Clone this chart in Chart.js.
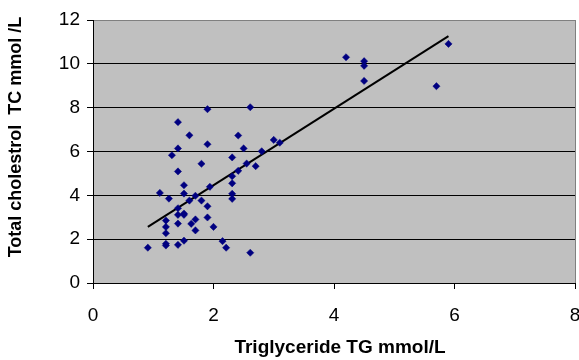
<!DOCTYPE html>
<html lang="en">
<head>
    <meta charset="UTF-8">
    <title>TG vs TC</title>
    <script src="https://cdn.jsdelivr.net/npm/chart.js"></script>
    <style>
        body { margin: 0; background: #fff; }
        #wrap { width: 579px; height: 360px; }
    </style>
</head>
<body>
    <div id="wrap"><canvas id="tgChart" width="579" height="360"></canvas></div>
    <script>
        // Triglyceride (x) and total cholesterol (y)
        const tgValues = [1.90, 2.61, 1.41, 1.60, 2.41, 1.90, 1.41, 2.50, 3.00, 3.10,
                          2.80, 1.31, 2.31, 1.80, 2.55, 2.70, 2.41, 1.41, 2.31, 2.31,
                          1.51, 1.94, 1.11, 1.51, 2.31, 1.26, 1.70, 2.31, 1.60, 1.80,
                          1.90, 1.41, 1.41, 1.51, 1.51, 1.90, 1.70, 1.21, 1.41, 1.63,
                          1.21, 2.00, 1.70, 1.21, 2.15, 1.51, 1.21, 1.21, 1.41, 0.91,
                          2.21, 2.61, 4.20, 4.50, 4.50, 4.50, 5.70, 5.90];
        const tcValues = [7.93, 8.02, 7.34, 6.74, 6.73, 6.33, 6.14, 6.14, 6.53, 6.40,
                          6.01, 5.83, 5.73, 5.44, 5.45, 5.33, 5.12, 5.09, 4.87, 4.55,
                          4.46, 4.39, 4.11, 4.08, 4.07, 3.85, 3.98, 3.84, 3.76, 3.76,
                          3.50, 3.41, 3.11, 3.17, 3.11, 2.99, 2.90, 2.85, 2.71, 2.70,
                          2.56, 2.56, 2.40, 2.27, 1.91, 1.93, 1.79, 1.71, 1.74, 1.61,
                          1.61, 1.38, 10.30, 10.12, 9.91, 9.22, 8.98, 10.91];
        const trendX = [0.91, 5.90];
        const trendY = [2.56, 11.26];
        const xTicks = [0, 2, 4, 6, 8];
        const yTicks = [0, 2, 4, 6, 8, 10, 12];
        const xTitle = 'Triglyceride TG mmol/L';
        const yTitle = 'Total cholestrol  TC mmol /L';

        const FONT = '"Liberation Sans", Arial, sans-serif';

        const plotBg = {
            id: 'plotBg',
            beforeDraw(chart) {
                const a = chart.chartArea, c = chart.ctx;
                c.save();
                c.fillStyle = '#c0c0c0';
                c.fillRect(a.left, a.top, a.right - a.left, a.bottom - a.top);
                c.restore();
            }
        };

        const axisTitles = {
            id: 'axisTitles',
            afterDraw(chart) {
                const c = chart.ctx;
                c.save();
                c.fillStyle = '#000';
                c.font = 'bold 19px ' + FONT;
                c.textAlign = 'center';
                c.textBaseline = 'middle';
                c.fillText(xTitle, 340, 348);
                c.font = 'bold 18px ' + FONT;
                c.translate(16, 137);
                c.rotate(-Math.PI / 2);
                c.fillText(yTitle, 0, 0);
                c.restore();
            }
        };

        new Chart(document.getElementById('tgChart'), {
            type: 'scatter',
            data: {
                datasets: [{
                    data: tgValues.map((x, i) => ({ x: x, y: tcValues[i] })),
                    pointStyle: 'rectRot',
                    pointRadius: 3.6,
                    backgroundColor: '#000080',
                    borderColor: '#000080',
                    borderWidth: 0.5
                }, {
                    type: 'line',
                    data: trendX.map((x, i) => ({ x: x, y: trendY[i] })),
                    borderColor: '#000',
                    borderWidth: 2,
                    pointRadius: 0,
                    fill: false
                }]
            },
            options: {
                responsive: false,
                animation: false,
                layout: { autoPadding: false, padding: { top: 20, right: 4, left: 0, bottom: 0 } },
                plugins: { legend: { display: false }, tooltip: { enabled: false } },
                scales: {
                    x: {
                        type: 'linear', min: 0, max: 8,
                        afterBuildTicks: s => { s.ticks = xTicks.map(v => ({ value: v })); },
                        afterFit: s => { s.height = 77; s.paddingLeft = 0; s.paddingRight = 0; },
                        border: { color: '#000', width: 1 },
                        grid: {
                            color: ctx => ctx.tick && ctx.tick.value === 8 ? '#808080' : 'rgba(0,0,0,0)',
                            tickColor: '#000', tickLength: 6
                        },
                        ticks: { color: '#000', padding: 15, maxRotation: 0, font: { family: FONT, size: 19 } }
                    },
                    y: {
                        type: 'linear', min: 0, max: 12,
                        afterBuildTicks: s => { s.ticks = yTicks.map(v => ({ value: v })); },
                        afterFit: s => { s.width = 93; s.paddingTop = 0; s.paddingBottom = 0; },
                        border: { color: '#000', width: 1 },
                        grid: {
                            color: ctx => ctx.tick && ctx.tick.value === 12 ? '#808080' : '#000',
                            tickColor: '#000', tickLength: 6
                        },
                        ticks: { color: '#000', padding: 7, font: { family: FONT, size: 19 } }
                    }
                }
            },
            plugins: [plotBg, axisTitles]
        });
    </script>
</body>
</html>
